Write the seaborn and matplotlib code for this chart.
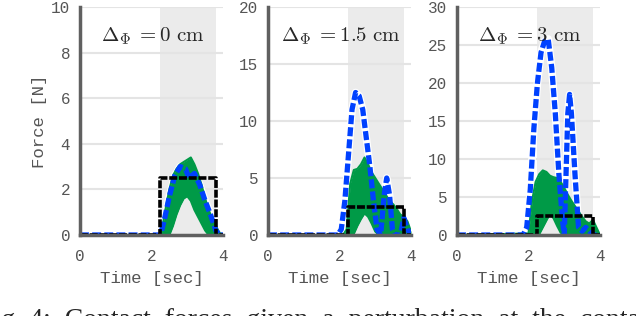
import numpy as np
import pandas as pd
import matplotlib
matplotlib.use('Agg')
import matplotlib.pyplot as plt
import seaborn as sns

# desired (reference) force: step between 2.25 and 3.8 s
t_ref = [0, 2.25, 2.25, 3.8, 3.8, 4.0]
f_ref = [0, 0, 2.5, 2.5, 0, 0]

# panel 1 (0 cm)
t1_blue = [0, 2.25, 2.35, 2.5, 2.65, 2.8, 2.95, 3.05, 3.2, 3.35, 3.5, 3.65, 3.8, 3.9, 4.0]
f1_blue = [0, 0, 0.6, 1.7, 2.6, 3.0, 2.9, 2.5, 2.7, 2.2, 1.5, 0.9, 0.2, 0, 0]
t1_green = [0, 2.25, 2.3, 2.4, 2.5, 2.6, 2.7, 2.8, 2.9, 3.0, 3.1, 3.2, 3.3, 3.4, 3.5, 3.6, 3.7, 3.8, 3.9, 4.0]
f1_green_hi = [0, 0, 0.3, 1.2, 2.0, 2.6, 2.9, 3.1, 3.2, 3.3, 3.4, 3.1, 2.7, 2.2, 1.6, 1.1, 0.7, 0.4, 0.1, 0]
f1_green_lo = [0, 0, 0, 0, 0, 0.4, 0.9, 1.3, 1.6, 1.7, 1.5, 1.1, 0.8, 0.5, 0.2, 0, 0, 0, 0, 0]

# panel 2 (1.5 cm)
t2_blue = [0, 1.95, 2.05, 2.15, 2.25, 2.35, 2.45, 2.55, 2.65, 2.75, 2.85, 2.95, 3.05, 3.15,
           3.25, 3.32, 3.4, 3.48, 3.55, 3.7, 3.8, 3.9, 4.0]
f2_blue = [0, 0, 0.5, 3.0, 7.0, 11.0, 12.5, 12.2, 11.0, 8.5, 6.0, 3.0, 0.5, 0,
           3.5, 5.0, 3.5, 0.5, 0, 0, 1.5, 0.5, 0]
t2_green = [0, 2.0, 2.1, 2.2, 2.3, 2.4, 2.5, 2.6, 2.7, 2.8, 2.9, 3.0, 3.1, 3.2, 3.3, 3.4, 3.5, 3.6, 3.7, 3.8, 3.9, 4.0]
f2_green_hi = [0, 0, 0, 0.5, 4.5, 5.7, 5.8, 6.2, 6.8, 6.2, 5.5, 5.0, 4.5, 4.0, 3.5, 3.0, 2.7, 2.3, 1.8, 1.6, 1.2, 0.3]
f2_green_lo = [0, 0, 0, 0, 0, 0.1, 0.8, 1.4, 1.9, 1.6, 1.0, 0.3, 0, 0, 0, 0, 0, 0, 0, 0, 0, 0]

# panel 3 (3 cm)
t3_blue = [0, 1.85, 1.95, 2.05, 2.15, 2.25, 2.35, 2.45, 2.55, 2.65, 2.75, 2.85, 2.95, 3.0,
           3.05, 3.1, 3.15, 3.2, 3.3, 3.4, 3.5, 3.6, 3.7, 3.8, 3.9, 4.0]
f3_blue = [0, 0, 1.0, 6.0, 14.0, 20.0, 24.0, 25.5, 25.8, 22.0, 16.0, 8.0, 2.0, 0,
           8.0, 16.0, 18.5, 16.0, 8.0, 1.0, 0.5, 1.0, 0.5, 0, 0, 0]
t3_green = [0, 2.0, 2.1, 2.2, 2.3, 2.4, 2.5, 2.6, 2.7, 2.8, 2.9, 3.0, 3.1, 3.2, 3.3, 3.4, 3.5, 3.6, 3.7, 3.8, 3.9, 4.0]
f3_green_hi = [0, 0.2, 4.5, 7.0, 8.0, 8.5, 8.3, 7.8, 7.6, 7.5, 7.0, 6.2, 5.3, 4.5, 3.8, 3.1, 2.4, 1.8, 1.5, 2.0, 1.0, 0]
f3_green_lo = [0, 0, 0, 0, 0.1, 1.0, 1.9, 2.8, 2.2, 1.2, 0.3, 0, 0, 0, 0, 0, 0, 0, 0, 0, 0, 0]

titles = ['0 cm', '1.5 cm', '3 cm']
ymax = [10, 20, 30]
ymajor = [2, 5, 5]
yminor = [1, 2.5, 2.5]

panels = [
    (t1_blue, f1_blue, t1_green, f1_green_hi, f1_green_lo),
    (t2_blue, f2_blue, t2_green, f2_green_hi, f2_green_lo),
    (t3_blue, f3_blue, t3_green, f3_green_hi, f3_green_lo),
]

sns.set_style('white')
plt.rcParams['mathtext.fontset'] = 'cm'
mono = 'Liberation Mono'
gray = '#555555'
spine = '#606060'
blue = '#0041ff'
green = '#009a47'

fig = plt.figure(figsize=(6.36, 3.16), dpi=100)
lefts = [80, 268, 457]
for i, (tb, fb, tg, ghi, glo) in enumerate(panels):
    ax = fig.add_axes([lefts[i] / 636, 1 - 235 / 316, 143 / 636, 228 / 316])
    ax.axvspan(2.25, 3.8, color='#ebebeb', lw=0, zorder=0)
    ax.set_xlim(0, 4)
    ax.set_ylim(0, ymax[i])
    ax.set_yticks(np.arange(0, ymax[i] + 0.01, ymajor[i]))
    ax.set_yticks(np.arange(0, ymax[i] + 0.01, yminor[i]), minor=True)
    ax.set_xticks([0, 2, 4])
    ax.set_xticks(np.arange(0, 4.01, 0.5), minor=True)
    ax.yaxis.grid(True, color='#e4e4e4', lw=1.5, zorder=0.5)
    ax.set_axisbelow(True)

    # white underlay for the blue dashed line
    sns.lineplot(x=tb, y=fb, ax=ax, color='white', lw=5.5, estimator=None, sort=False, zorder=2)
    # green bundle of trials
    ax.fill_between(tg, glo, ghi, color=green, lw=0, zorder=3)
    sns.lineplot(x=tg, y=ghi, ax=ax, color=green, lw=1.5, estimator=None, sort=False, zorder=3)
    sns.lineplot(x=tg, y=glo, ax=ax, color=green, lw=1.5, estimator=None, sort=False, zorder=3)
    sns.lineplot(x=tb, y=fb, ax=ax, color=blue, lw=3.8, estimator=None, sort=False,
                 zorder=4).lines[-1].set_dashes([1.7, 0.6])
    sns.lineplot(x=t_ref, y=f_ref, ax=ax, color='black', lw=2.6, estimator=None, sort=False,
                 zorder=5).lines[-1].set_dashes([2.2, 0.5])

    for s in ['top', 'right']:
        ax.spines[s].set_visible(False)
    for s in ['left', 'bottom']:
        ax.spines[s].set_color(spine)
        ax.spines[s].set_linewidth(2.5)
        ax.spines[s].set_zorder(6)
    ax.tick_params(axis='both', which='major', direction='out', length=4, width=2,
                   color=spine, labelcolor=gray, labelsize=11.5, pad=3)
    ax.tick_params(axis='x', which='major', pad=6)
    ax.tick_params(axis='both', which='minor', direction='out', length=2, width=2, color=spine)
    ax.tick_params(axis='x', which='minor', direction='in', length=2)
    for lab in ax.get_xticklabels() + ax.get_yticklabels():
        lab.set_family(mono)
    ax.set_xlabel('Time [sec]', family=mono, color=gray, fontsize=12.5, labelpad=5)
    if i == 0:
        ax.set_ylabel('Force [N]', family=mono, color=gray, fontsize=12.5, labelpad=3)
    else:
        ax.set_ylabel('')
    ax.text(0.51, 0.87, r'$\Delta_\Phi\;\mathrm{=}$' + r'$\mathrm{' + titles[i].replace(' ', r'\ ') + '}$',
            transform=ax.transAxes, ha='center', va='center', fontsize=15, zorder=7)

fig.text(-0.035, -0.035, 'Fig. 4:  Contact  forces  given  a  perturbation  at  the  contact',
         family='Liberation Serif', fontsize=20, ha='left', va='baseline')

fig.savefig('out.png', dpi=100)
